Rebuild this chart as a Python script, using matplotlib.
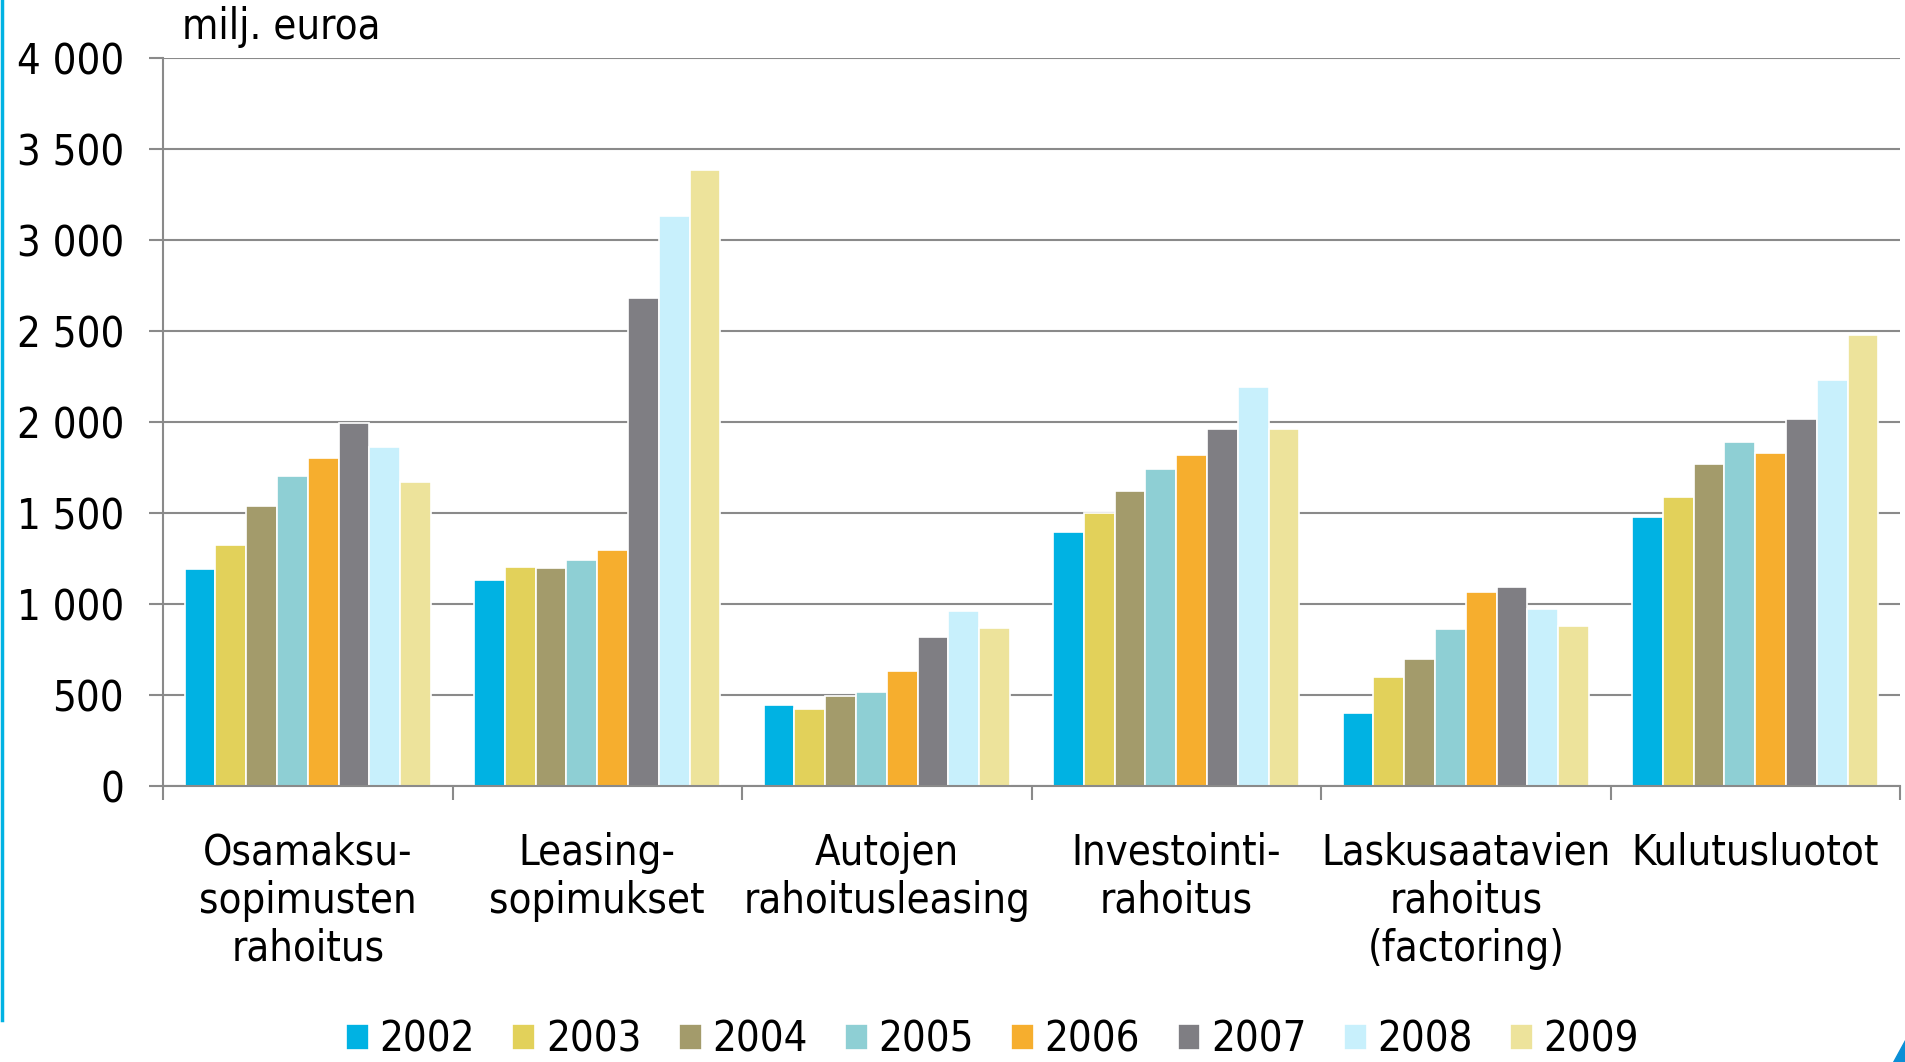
import matplotlib.pyplot as plt
from matplotlib.patches import Polygon
from matplotlib.lines import Line2D
import numpy as np

categories = ["Osamaksu-\nsopimusten\nrahoitus", "Leasing-\nsopimukset", "Autojen\nrahoitusleasing",
              "Investointi-\nrahoitus", "Laskusaatavien\nrahoitus\n(factoring)", "Kulutusluotot"]
years = ["2002", "2003", "2004", "2005", "2006", "2007", "2008", "2009"]
colors = ["#00b2e3", "#e2d15a", "#a39b6b", "#8ecfd4", "#f6ae2e", "#7f7e83", "#c8f0fc", "#ede39b"]

# values per year, one entry per category (milj. euroa)
v2002 = [1190, 1132, 447, 1395, 400, 1477]
v2003 = [1323, 1202, 425, 1502, 597, 1587]
v2004 = [1536, 1196, 496, 1623, 698, 1771]
v2005 = [1703, 1240, 515, 1743, 861, 1892]
v2006 = [1804, 1299, 634, 1816, 1064, 1828]
v2007 = [1995, 2684, 820, 1963, 1095, 2015]
v2008 = [1862, 3132, 961, 2191, 972, 2230]
v2009 = [1670, 3386, 870, 1960, 880, 2476]
series = [v2002, v2003, v2004, v2005, v2006, v2007, v2008, v2009]

plt.rcParams['font.family'] = ['DejaVu Sans']
plt.rcParams['font.stretch'] = 'condensed'
fs = 30
grid_c = "#8a8a8a"

fig = plt.figure(figsize=(19.05, 10.62), dpi=100)
ax = fig.add_axes([163 / 1905, 1 - 786 / 1062, (1900 - 163) / 1905, (786 - 58) / 1062])

n = len(series)
w = 0.85 / n
x = np.arange(len(categories)) + 0.5
for j, vals in enumerate(series):
    ax.bar(x + (j - (n - 1) / 2) * w, vals, width=w, color=colors[j],
           edgecolor="white", linewidth=1.2, label=years[j], zorder=3)

ax.set_xlim(0, len(categories))
ax.set_ylim(0, 4000)
ax.set_yticks(range(0, 4001, 500))
ax.set_yticklabels([f"{v:,}".replace(",", " ") for v in range(0, 4001, 500)])
ax.grid(axis="y", color=grid_c, linewidth=1.5, zorder=0)

ax.set_xticks(range(len(categories) + 1))
ax.set_xticklabels([])
ax.set_xticks(x, minor=True)
ax.set_xticklabels(categories, minor=True, fontsize=fs, linespacing=1.18)
ax.tick_params(axis="x", which="minor", length=0, pad=33)
ax.tick_params(axis="x", which="major", length=10, width=1.5, color=grid_c, direction="out")
ax.tick_params(axis="y", length=10, width=1.5, color=grid_c, labelsize=fs, pad=18)

for s in ["top", "right"]:
    ax.spines[s].set_visible(False)
for s in ["left", "bottom"]:
    ax.spines[s].set_color(grid_c)
    ax.spines[s].set_linewidth(1.5)
ax.spines["bottom"].set_zorder(4)

fig.text(182 / 1905, 1 - 27 / 1062, "milj. euroa", fontsize=fs, va="center", ha="left")

fig.legend(loc="center", bbox_to_anchor=(0.521, 0.021), ncol=8, frameon=False, fontsize=fs,
           handlelength=0.55, handleheight=0.55, handletextpad=0.25, columnspacing=0.9,
           borderpad=0.1)

# decorative edge marks from the slide
fig.add_artist(Line2D([0.001, 0.001], [0.04, 1.0], color="#00b2e3", linewidth=2.5, transform=fig.transFigure))
fig.add_artist(Polygon([[1893 / 1905, 0], [1905 / 1905, 0], [1905 / 1905, 22 / 1062]], closed=True,
                       color="#0a8fd6", transform=fig.transFigure))

fig.savefig("out.png", dpi=100)
